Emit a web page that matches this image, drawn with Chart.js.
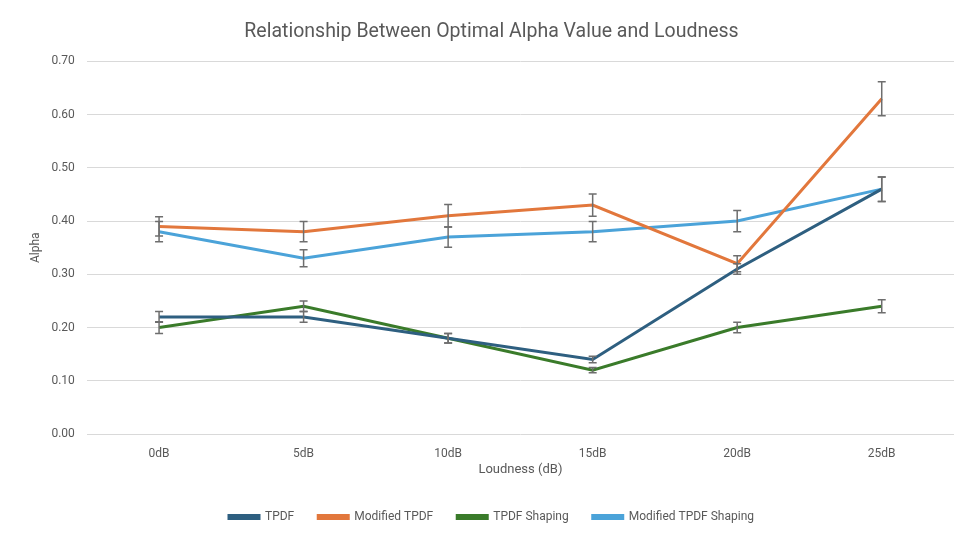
<!DOCTYPE html>
<html>
<head>
<meta charset="utf-8">
<script src="https://cdn.jsdelivr.net/npm/chart.js@4"></script>
<style>
  html, body { margin: 0; padding: 0; background: #fff; }
  #wrap { width: 956px; height: 535px; }
</style>
</head>
<body>
<div id="wrap"><canvas id="alphaChart"></canvas></div>
<script>
// Chart data
const labels = ['0dB', '5dB', '10dB', '15dB', '20dB', '25dB'];

const tpdf = [0.22, 0.22, 0.18, 0.14, 0.31, 0.46];
const modifiedTpdf = [0.39, 0.38, 0.41, 0.43, 0.32, 0.63];
const tpdfShaping = [0.20, 0.24, 0.18, 0.12, 0.20, 0.24];
const modifiedTpdfShaping = [0.38, 0.33, 0.37, 0.38, 0.40, 0.46];

// +/- error amounts
const errTpdf = [0.010, 0.010, 0.009, 0.006, 0.010, 0.023];
const errModifiedTpdf = [0.018, 0.019, 0.021, 0.021, 0.015, 0.032];
const errTpdfShaping = [0.011, 0.010, 0.009, 0.005, 0.010, 0.012];
const errModifiedTpdfShaping = [0.019, 0.016, 0.019, 0.019, 0.020, 0.023];

const yTicks = [0, 0.1, 0.2, 0.3, 0.4, 0.5, 0.6, 0.7];

const textColor = '#595959';
const font = "Roboto, 'Open Sans', sans-serif";

// Draws vertical error bars with caps using the chart's own scales
const errorBars = {
    id: 'errorBars',
    afterDatasetsDraw(chart) {
        const { ctx, scales: { x, y } } = chart;
        ctx.save();
        ctx.strokeStyle = '#6e6e6e';
        ctx.lineWidth = 1.5;
        chart.data.datasets.forEach((ds, i) => {
            if (!ds.errors || !chart.isDatasetVisible(i)) return;
            ds.data.forEach((v, j) => {
                const px = x.getPixelForValue(j);
                const top = y.getPixelForValue(v + ds.errors[j]);
                const bot = y.getPixelForValue(v - ds.errors[j]);
                ctx.beginPath();
                ctx.moveTo(px, top);
                ctx.lineTo(px, bot);
                ctx.moveTo(px - 4, top);
                ctx.lineTo(px + 4, top);
                ctx.moveTo(px - 4, bot);
                ctx.lineTo(px + 4, bot);
                ctx.stroke();
            });
        });
        ctx.restore();
    }
};

const makeSet = (label, data, errors, color) => ({
    label: label,
    data: data,
    errors: errors,
    borderColor: color,
    backgroundColor: color,
    borderWidth: 3,
    pointRadius: 0,
    tension: 0,
    fill: false
});

new Chart(document.getElementById('alphaChart').getContext('2d'), {
    type: 'line',
    data: {
        labels: labels,
        datasets: [
            makeSet('TPDF', tpdf, errTpdf, '#2e5f80'),
            makeSet('Modified TPDF', modifiedTpdf, errModifiedTpdf, '#e2773c'),
            makeSet('TPDF Shaping', tpdfShaping, errTpdfShaping, '#3a7b2a'),
            makeSet('Modified TPDF Shaping', modifiedTpdfShaping, errModifiedTpdfShaping, '#4ba3d9')
        ]
    },
    options: {
        responsive: true,
        maintainAspectRatio: false,
        animation: false,
        layout: { padding: { left: 29, right: 2, top: 20, bottom: 2 } },
        plugins: {
            title: {
                display: true,
                text: 'Relationship Between Optimal Alpha Value and Loudness',
                color: textColor,
                font: { family: font, size: 19.5, weight: 'normal' },
                padding: { top: 0, bottom: 18 }
            },
            legend: {
                position: 'bottom',
                labels: {
                    color: textColor,
                    font: { family: font, size: 12 },
                    boxWidth: 30,
                    boxHeight: 3,
                    padding: 24
                }
            },
            tooltip: { enabled: false }
        },
        scales: {
            x: {
                offset: true,
                grid: { display: false },
                border: { display: false },
                ticks: { color: textColor, font: { family: font, size: 12 }, padding: 5 },
                title: {
                    display: true,
                    text: 'Loudness (dB)',
                    color: textColor,
                    font: { family: font, size: 13 },
                    padding: { top: -4, bottom: 9 }
                }
            },
            y: {
                min: 0,
                max: 0.7,
                afterBuildTicks: (axis) => { axis.ticks = yTicks.map(v => ({ value: v })); },
                grid: { color: '#d9d9d9', lineWidth: 1, drawTicks: false },
                border: { display: false },
                ticks: {
                    color: textColor,
                    font: { family: font, size: 12 },
                    padding: 12,
                    callback: (v) => v.toFixed(2)
                },
                title: {
                    display: true,
                    text: 'Alpha',
                    color: textColor,
                    font: { family: font, size: 12 },
                    padding: { top: 0, bottom: -4 }
                }
            }
        }
    },
    plugins: [errorBars]
});
</script>
</body>
</html>
